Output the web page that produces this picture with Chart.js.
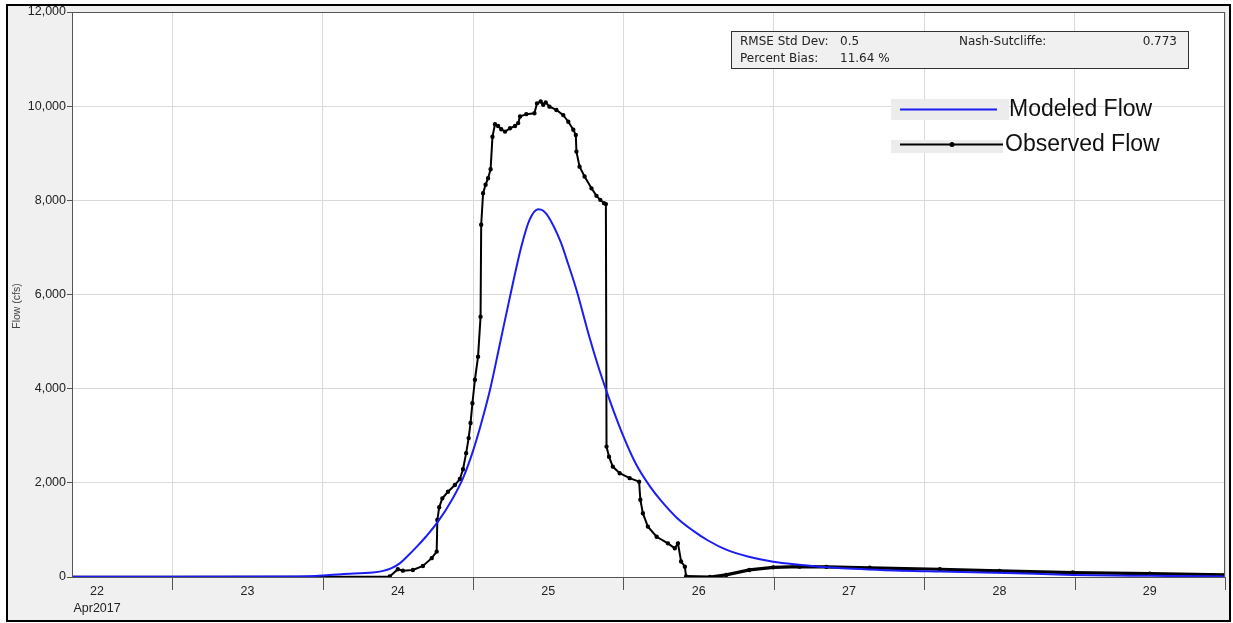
<!DOCTYPE html>
<html>
<head>
<meta charset="utf-8">
<title>Flow comparison</title>
<script src="https://cdn.jsdelivr.net/npm/chart.js@4.4.0/dist/chart.umd.min.js"></script>
<style>
  body { margin: 0; background: #fff; }
  #frame { position: absolute; left: 6px; top: 4px; width: 1221px; height: 614px; border: 2px solid #000; background: #f0f0f0; }
  #flow-chart { position: absolute; left: 0; top: 0; }
</style>
</head>
<body>
<div id="frame"></div>
<canvas id="flow-chart" width="1233" height="623"></canvas>
<script>
// hours since 22 Apr 2017 00:00
var modHours = [8, 24, 44, 48, 51, 56, 57.5, 59, 60.3, 61.6, 63.0, 64.5, 66.4, 68.8, 70.4, 72.0, 73.3, 74.7, 76.3, 77.9, 79.7,
    81.0, 82.4, 83.2, 84.0, 86.0, 87.0, 88.5, 90.6, 92.2, 93.9, 95.9, 98.0, 100.2, 102.0, 104.5, 107.1, 109.5, 112.4, 116.0, 119.9,
    124.0, 128.4, 137.0, 146.5, 157.0, 167.7, 180.0, 192];
var modFlow = [5, 5, 10, 30, 60, 95, 125, 190, 290, 450, 640, 860, 1175, 1680, 2100, 2680, 3260, 3970, 4960, 5955, 7015,
    7580, 7810, 7780, 7655, 7110, 6720, 6100, 5080, 4380, 3720, 3020, 2400, 1930, 1620, 1260, 985, 775, 580, 430, 325,
    260, 205, 150, 115, 85, 45, 25, 10];

var obsHours = [8, 24, 48, 56, 58.7, 60.0, 60.8, 62.4, 64.0, 65.4, 66.2, 66.3, 66.6, 67.1, 68.0, 69.1, 69.9, 70.4, 70.9, 71.3,
    71.6, 71.9, 72.3, 72.8, 73.2, 73.3, 73.6, 74.0, 74.4, 74.8, 75.1, 75.5, 76.0, 76.5, 77.1, 77.9, 78.7, 79.2, 79.5, 80.5,
    81.8, 82.2, 82.8, 83.2, 83.6, 84.2, 85.3, 86.4, 87.2, 88.0, 88.4, 88.5, 89.0, 89.8, 90.9, 91.7, 92.3, 92.9, 93.2, 93.3,
    93.7, 94.3, 95.4, 97.0, 98.5, 98.7, 99.1, 99.9, 101.3, 103.1, 104.2, 104.7, 105.2, 105.8, 106.0, 109.8, 112.4, 116.1, 119.9, 124.1,
    128.4, 135.3, 146.5, 156.0, 167.7, 180.0, 192];
var obsFlow = [5, 5, 5, 5, 10, 165, 135, 150, 235, 400, 540, 1210, 1480, 1670, 1810, 1955, 2080, 2290, 2630, 2950,
    3270, 3690, 4190, 4680, 5530, 7480, 8150, 8330, 8470, 8660, 9350, 9615, 9580, 9510, 9460, 9530, 9580, 9640, 9780, 9830,
    9850, 10060, 10100, 10030, 10080, 9990, 9920, 9810, 9670, 9500, 9390, 9035, 8715, 8505, 8255, 8095, 8010, 7940, 7920, 2770,
    2555, 2345, 2205, 2100, 2025, 1640, 1355, 1070, 855, 715, 610, 715, 330, 220, 10, 0, 45, 150, 205, 220,
    215, 195, 165, 130, 95, 70, 45];

var dayLabels = ["22", "23", "24", "25", "26", "27", "28", "29"];
var monthLabel = "Apr2017";
var seriesNames = ["Modeled Flow", "Observed Flow"];
var statsRows = [["RMSE Std Dev:", "0.5"], ["Percent Bias:", "11.64 %"]];
var nashLabel = "Nash-Sutcliffe:";
var nashValue = "0.773";
var yTitle = "Flow (cfs)";

function toPoints(xs, ys) {
    return xs.map(function (x, i) { return { x: x, y: ys[i] }; });
}

var frameColor = "#555";

// white plot area, frame, day ticks, stats box and legend
var decorations = {
    id: "decorations",
    beforeDraw: function (chart) {
        var a = chart.chartArea, ctx = chart.ctx;
        ctx.save();
        ctx.fillStyle = "#fff";
        ctx.fillRect(a.left, a.top, a.right - a.left, a.bottom - a.top);
        ctx.restore();
    },
    afterDraw: function (chart) {
        var a = chart.chartArea, ctx = chart.ctx, xs = chart.scales.x;
        ctx.save();

        // frame round the plot
        ctx.strokeStyle = frameColor;
        ctx.lineWidth = 1;
        ctx.strokeRect(a.left + 0.5, a.top + 0.5, a.right - a.left - 1, a.bottom - a.top);

        // long ticks at day boundaries
        ctx.beginPath();
        for (var h = 24; h <= 192; h += 24) {
            var px = Math.round(xs.getPixelForValue(h)) + 0.5;
            ctx.moveTo(px, a.bottom);
            ctx.lineTo(px, a.bottom + 13);
        }
        ctx.stroke();

        // axis title
        ctx.fillStyle = "#444";
        ctx.font = "10.5px 'Liberation Sans', Arial, sans-serif";
        ctx.textAlign = "center";
        ctx.textBaseline = "middle";
        ctx.translate(17.5, 306);
        ctx.rotate(-Math.PI / 2);
        ctx.fillText(yTitle, 0, 0);
        ctx.setTransform(1, 0, 0, 1, 0, 0);

        // statistics box
        ctx.fillStyle = "#f0f0f0";
        ctx.fillRect(731.5, 31.5, 457, 37);
        ctx.strokeStyle = "#333";
        ctx.strokeRect(731.5, 31.5, 457, 37);
        ctx.fillStyle = "#222";
        ctx.font = "12px 'DejaVu Sans', sans-serif";
        ctx.textAlign = "left";
        statsRows.forEach(function (row, i) {
            var y = 42 + i * 16.5;
            ctx.fillText(row[0], 740, y);
            ctx.fillText(row[1], 840, y);
        });
        ctx.fillText(nashLabel, 959, 42);
        ctx.textAlign = "right";
        ctx.fillText(nashValue, 1177, 42);

        // legend
        var rows = [
            { y: 109.5, color: chart.data.datasets[0].borderColor, dot: false, textX: 1009, bg: [891, 99, 118, 21] },
            { y: 144.5, color: chart.data.datasets[1].borderColor, dot: true, textX: 1005, bg: [891, 140, 112, 13] }
        ];
        rows.forEach(function (r, i) {
            ctx.fillStyle = "#ececec";
            ctx.fillRect(r.bg[0], r.bg[1], r.bg[2], r.bg[3]);
            ctx.strokeStyle = r.color;
            ctx.lineWidth = 2;
            ctx.beginPath();
            ctx.moveTo(900, r.y);
            ctx.lineTo(i === 0 ? 997 : 1003, r.y);
            ctx.stroke();
            if (r.dot) {
                ctx.fillStyle = r.color;
                ctx.beginPath();
                ctx.arc(952, r.y, 2.5, 0, Math.PI * 2);
                ctx.fill();
            }
            ctx.fillStyle = "#111";
            ctx.font = "23px 'Liberation Sans', Arial, sans-serif";
            ctx.textAlign = "left";
            ctx.textBaseline = "middle";
            ctx.fillText(seriesNames[i], r.textX, r.y);
        });
        ctx.restore();
    }
};

var config = {
    type: "line",
    data: {
        datasets: [{
            label: seriesNames[0],
            data: toPoints(modHours, modFlow),
            borderColor: "#1c1cf5",
            borderWidth: 2,
            pointRadius: 0,
            cubicInterpolationMode: "monotone",
            fill: false
        }, {
            label: seriesNames[1],
            data: toPoints(obsHours, obsFlow),
            borderColor: "#000",
            backgroundColor: "#000",
            borderWidth: 2,
            pointRadius: function (c) { return c.raw && c.raw.x < 58 ? 0 : 1.2; },
            pointHoverRadius: 1.2,
            tension: 0,
            fill: false,
            // the 15-minute record is dense on the recession, so the trace reads heavier there
            segment: {
                borderWidth: function (c) { return c.p0.parsed.x >= 106 ? 3.2 : 2; }
            }
        }]
    },
    options: {
        responsive: false,
        animation: false,
        events: [],
        layout: { padding: { top: 12, right: 8, left: 0, bottom: 0 } },
        plugins: {
            legend: { display: false },
            tooltip: { enabled: false }
        },
        scales: {
            x: {
                type: "linear",
                min: 8,
                max: 192,
                afterFit: function (scale) { scale.height = 46; },
                afterBuildTicks: function (scale) {
                    var t = [];
                    for (var h = 12; h <= 192; h += 12) t.push({ value: h });
                    scale.ticks = t;
                },
                grid: {
                    color: function (c) { return c.tick && c.tick.value % 24 === 0 ? "#d9d9d9" : "transparent"; },
                    tickColor: "transparent",
                    tickLength: 4
                },
                border: { color: frameColor },
                ticks: {
                    padding: 2,
                    autoSkip: false,
                    maxRotation: 0,
                    color: "#222",
                    font: { family: "'Liberation Sans', Arial, sans-serif", size: 12.5, lineHeight: 1.35 },
                    callback: function (v) {
                        if (v % 24 !== 12) return "";
                        var i = (v - 12) / 24;
                        return i === 0 ? [dayLabels[0], monthLabel] : dayLabels[i];
                    }
                }
            },
            y: {
                min: 0,
                max: 12000,
                afterFit: function (scale) { scale.width = 72; },
                grid: {
                    color: "#d9d9d9",
                    tickColor: frameColor,
                    tickLength: 5
                },
                border: { color: frameColor },
                ticks: {
                    stepSize: 2000,
                    padding: 1,
                    color: "#222",
                    font: { family: "'Liberation Sans', Arial, sans-serif", size: 12.5 },
                    callback: function (v) { return v.toLocaleString("en-US"); }
                }
            }
        }
    },
    plugins: [decorations]
};

var flowChart = new Chart(document.getElementById("flow-chart"), config);
</script>
</body>
</html>
